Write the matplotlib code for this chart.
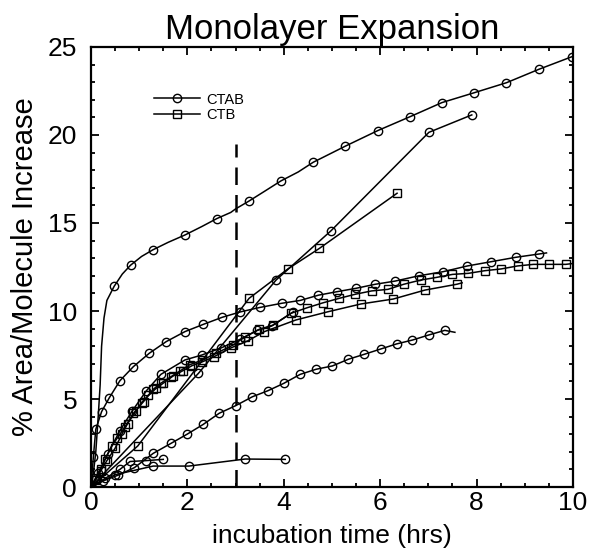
import matplotlib
matplotlib.use('Agg')
import matplotlib.pyplot as plt
from matplotlib.ticker import MultipleLocator

plt.rcParams['font.family'] = ['Liberation Sans', 'DejaVu Sans']

# CTAB, fast-rising top curve (markers on a subset of points)
top_x = [0, 0.05, 0.1, 0.15, 0.19, 0.22, 0.27, 0.33, 0.48, 0.65, 0.82, 1.05, 1.28, 1.6, 1.95,
         2.3, 2.61, 2.9, 3.0, 3.28, 3.6, 3.94, 4.3, 4.61, 5.28, 5.95, 6.62, 7.28, 7.95, 8.62, 9.29, 9.98]
top_y = [0, 0.8, 2.0, 4.0, 5.8, 8.0, 9.6, 10.6, 11.4, 12.1, 12.6, 13.1, 13.47, 13.9, 14.32,
         14.8, 15.25, 15.6, 15.8, 16.25, 16.8, 17.39, 17.9, 18.45, 19.37, 20.25, 21.04, 21.84, 22.4, 22.97, 23.73, 24.45]
top_marks = [0, 8, 10, 12, 14, 16, 19, 21, 23, 24, 25, 26, 27, 28, 29, 30, 31]

# CTAB, second curve
mid_x = [0, 0.05, 0.1, 0.22, 0.38, 0.6, 0.88, 1.21, 1.56, 1.95, 2.33, 2.72, 3.1, 3.5, 3.96, 4.34,
         4.72, 5.11, 5.5, 5.9, 6.31, 6.8, 7.3, 7.81, 8.3, 8.81, 9.3, 9.45]
mid_y = [0, 1.73, 3.28, 4.28, 5.07, 6.04, 6.84, 7.6, 8.26, 8.83, 9.24, 9.64, 9.95, 10.2, 10.44, 10.6,
         10.9, 11.1, 11.29, 11.52, 11.7, 12.0, 12.23, 12.56, 12.8, 13.05, 13.24, 13.3]

# CTAB, curve inside the dense bundle
bun_x = [0, 0.15, 0.35, 0.6, 0.85, 1.15, 1.45, 1.95, 2.3, 2.7, 3.1, 3.45, 3.75, 4.2]
bun_y = [0, 0.8, 1.9, 3.2, 4.3, 5.47, 6.4, 7.22, 7.5, 7.9, 8.4, 8.9, 9.15, 9.96]

# CTB, upper square curve
sqa_x = [0, 0.1, 0.2, 0.3, 0.43, 0.55, 0.7, 0.88, 1.09, 1.29, 1.45, 1.65, 1.85, 2.05, 2.3, 2.6,
         2.95, 3.2, 3.49, 3.78, 4.15, 4.49, 4.82, 5.15, 5.48, 5.82, 6.16, 6.49, 6.84, 7.17, 7.5,
         7.83, 8.17, 8.51, 8.85, 9.18, 9.51, 9.85, 10.0]
sqa_y = [0, 0.5, 1.0, 1.6, 2.33, 2.8, 3.4, 4.19, 4.85, 5.55, 5.9, 6.25, 6.6, 6.95, 7.2, 7.6,
         8.07, 8.54, 8.96, 9.2, 9.87, 10.19, 10.47, 10.72, 10.95, 11.14, 11.23, 11.52, 11.76, 11.91, 12.08,
         12.14, 12.29, 12.39, 12.56, 12.65, 12.65, 12.65, 12.7]

# CTB, lower square curve
sqb_x = [0, 0.1, 0.2, 0.33, 0.5, 0.64, 0.76, 0.93, 1.05, 1.19, 1.35, 1.5, 1.7, 1.9, 2.1, 2.3,
         2.55, 2.9, 3.25, 3.59, 4.25, 4.92, 5.6, 6.27, 6.93, 7.59, 7.7]
sqb_y = [0, 0.4, 0.9, 1.5, 2.2, 3.0, 3.6, 4.3, 4.8, 5.2, 5.6, 5.9, 6.3, 6.6, 6.9, 7.1,
         7.4, 7.9, 8.3, 8.82, 9.49, 9.96, 10.4, 10.68, 11.19, 11.52, 11.6]

# CTAB, straight segments
lin_x = [0, 2.23, 3.84, 4.98, 7.01, 7.9]
lin_y = [0, 6.46, 11.76, 14.56, 20.15, 21.14]

# CTB, straight segments
lsq_x = [0, 0.97, 3.28, 4.09, 4.74, 6.35]
lsq_y = [0, 2.33, 10.72, 12.4, 13.56, 16.69]

# CTAB, slow curve
low_x = [0, 0.25, 0.57, 0.9, 1.29, 1.66, 2.0, 2.33, 2.66, 3.0, 3.35, 3.67, 4.0, 4.34, 4.67,
         5.01, 5.34, 5.67, 6.01, 6.34, 6.67, 7.01, 7.34, 7.55]
low_y = [0, 0.35, 0.68, 1.1, 1.91, 2.48, 3.01, 3.56, 4.19, 4.62, 5.13, 5.47, 5.89, 6.4, 6.69,
         6.88, 7.26, 7.54, 7.84, 8.13, 8.35, 8.64, 8.9, 8.79]

# CTAB, flat curves
flat_x = [0, 0.5, 1.29, 2.03, 3.2, 4.03]
flat_y = [0, 0.7, 1.19, 1.19, 1.59, 1.57]
short_x = [0, 0.3, 0.6, 0.81, 1.14, 1.5]
short_y = [0, 0.5, 1.0, 1.45, 1.5, 1.57]

fig = plt.figure(figsize=(5.97, 5.54), dpi=100)
ax = fig.add_axes([0.1524, 0.1209, 0.8074, 0.7943])

lw = 1.1
circ = dict(marker='o', mfc='none', mec='black', ms=6, mew=1.0, color='black', lw=lw)
sq = dict(marker='s', mfc='none', mec='black', ms=6, mew=1.0, color='black', lw=lw)

ax.plot(top_x, top_y, markevery=top_marks, **circ)
ax.plot(mid_x, mid_y, markevery=list(range(len(mid_x) - 1)), **circ)
ax.plot(bun_x, bun_y, **circ)
ax.plot(sqa_x, sqa_y, markevery=list(range(len(sqa_x) - 1)), **sq)
ax.plot(sqb_x, sqb_y, markevery=list(range(len(sqb_x) - 1)), **sq)
ax.plot(lin_x, lin_y, **circ)
ax.plot(lsq_x, lsq_y, **sq)
ax.plot(low_x, low_y, markevery=list(range(len(low_x) - 1)), **circ)
ax.plot(flat_x, flat_y, **circ)
ax.plot(short_x, short_y, **circ)

# legend drawn as handles only
ax.plot([], [], label='CTAB', **circ)
ax.plot([], [], label='CTB', **sq)

ax.vlines(3, 0, 19.5, colors='black', linestyles=(0, (7, 4)), lw=1.8)

ax.set_xlim(0, 10)
ax.set_ylim(0, 25)
ax.xaxis.set_major_locator(MultipleLocator(2))
ax.xaxis.set_minor_locator(MultipleLocator(0.5))
ax.yaxis.set_major_locator(MultipleLocator(5))
ax.yaxis.set_minor_locator(MultipleLocator(1))
ax.tick_params(which='both', direction='in', top=True, right=True, width=1.3)
ax.tick_params(which='major', length=6, labelsize=19)
ax.tick_params(which='minor', length=3)
ax.tick_params(axis='y', pad=10)
ax.tick_params(axis='x', pad=3)
for s in ax.spines.values():
    s.set_linewidth(1.6)

ax.set_title('Monolayer Expansion', fontsize=25, pad=6)
ax.set_xlabel('incubation time (hrs)', fontsize=19, labelpad=6)
ax.set_ylabel('% Area/Molecule Increase', fontsize=21, labelpad=6)

leg = ax.legend(loc='upper left', bbox_to_anchor=(0.115, 0.913), frameon=False, fontsize=10.5,
                handlelength=3.2, handletextpad=0.4, labelspacing=0.1, borderpad=0)

fig.savefig('out.png', dpi=100)
